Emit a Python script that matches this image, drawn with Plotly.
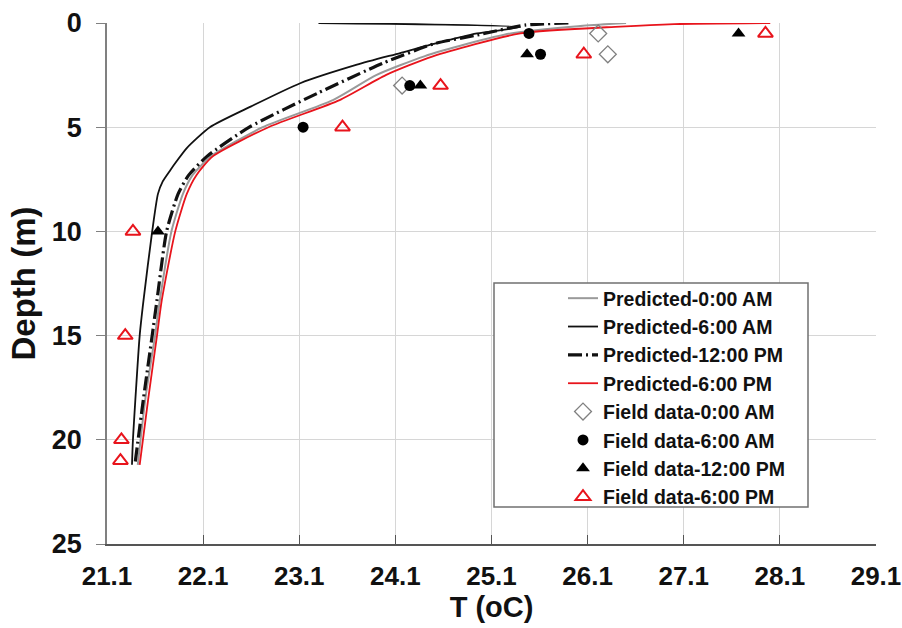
import plotly.graph_objects as go

# Predicted profiles (depth in m, temperature in oC)
depth_0am = [0, 0.15, 0.5, 1.0, 1.6, 2.5, 3.7, 5.0, 6.4, 7.3, 8.2, 10, 13.3, 15, 18, 21.2]
temp_0am = [26.5, 26.0, 25.3, 24.85, 24.4, 23.9, 23.45, 22.72, 22.18, 21.99, 21.89, 21.77, 21.65, 21.6, 21.5, 21.42]

depth_6am = [0, 0.2, 0.5, 1.0, 1.44, 2.0, 2.89, 4.0, 5.0, 6.0, 6.6, 7.05, 7.6, 8.2, 10, 13.3, 15, 20, 21.2]
temp_6am = [23.3, 25.4, 24.95, 24.5, 24.15, 23.7, 23.11, 22.6, 22.17, 21.93, 21.83, 21.76, 21.68, 21.63, 21.57, 21.48, 21.44, 21.37, 21.36]

depth_12pm = [0, 0.1, 0.58, 1.0, 1.93, 3.37, 5.0, 6.4, 7.3, 8.2, 10, 13.3, 15, 18, 21.2]
temp_12pm = [25.9, 25.45, 24.95, 24.5, 23.97, 23.29, 22.58, 22.14, 21.95, 21.84, 21.72, 21.62, 21.57, 21.48, 21.39]

depth_6pm = [0, 0.05, 0.17, 0.5, 1.6, 2.5, 3.7, 5.0, 6.4, 7.3, 8.2, 10, 13.3, 15, 18, 21.2]
temp_6pm = [28.0, 27.0, 26.44, 25.4, 24.49, 24.0, 23.52, 22.78, 22.2, 22.03, 21.93, 21.81, 21.67, 21.62, 21.53, 21.44]

# Field data
fd_0am_T = [26.21, 26.31, 24.17]
fd_0am_d = [0.5, 1.5, 3.0]
fd_6am_T = [25.49, 25.61, 24.25, 23.14]
fd_6am_d = [0.5, 1.5, 3.0, 5.0]
fd_12pm_T = [27.67, 25.47, 24.36, 21.63]
fd_12pm_d = [0.5, 1.5, 3.0, 10.0]
fd_6pm_T = [27.95, 26.06, 24.57, 23.55, 21.37, 21.29, 21.25, 21.24]
fd_6pm_d = [0.5, 1.5, 3.0, 5.0, 10.0, 15.0, 20.0, 21.0]

x_ticks = [21.1, 22.1, 23.1, 24.1, 25.1, 26.1, 27.1, 28.1, 29.1]
y_ticks = [0, 5, 10, 15, 20, 25]

# plot-area geometry in pixels
L, R, T, B = 107, 26, 23, 84
W, H = 902, 628
PW, PH = W - L - R, H - T - B


def px_x(px):
    return (px - L) / PW


def px_y(py):
    return 1 - (py - T) / PH


fig = go.Figure()

fig.add_trace(go.Scatter(x=temp_0am, y=depth_0am, mode="lines", name="Predicted-0:00 AM",
                         line=dict(color="#9a9a9a", width=2, shape="spline", smoothing=0.6), legendgroup="a"))
fig.add_trace(go.Scatter(x=temp_6am, y=depth_6am, mode="lines", name="Predicted-6:00 AM",
                         line=dict(color="#111111", width=1.8, shape="spline", smoothing=0.6), legendgroup="b"))
fig.add_trace(go.Scatter(x=temp_12pm, y=depth_12pm, mode="lines", name="Predicted-12:00 PM",
                         line=dict(color="#111111", width=3.2, dash="14px,4px,2px,4px", shape="spline", smoothing=0.6),
                         legendgroup="c"))
fig.add_trace(go.Scatter(x=temp_6pm, y=depth_6pm, mode="lines", name="Predicted-6:00 PM",
                         line=dict(color="#e8141c", width=1.8, shape="spline", smoothing=0.6), legendgroup="d"))

fig.add_trace(go.Scatter(x=fd_0am_T, y=fd_0am_d, mode="markers", name="Field data-0:00 AM",
                         marker=dict(symbol="diamond-open", size=13, color="#808080", line=dict(width=1.3)),
                         legendgroup="e"))
fig.add_trace(go.Scatter(x=fd_6am_T, y=fd_6am_d, mode="markers", name="Field data-6:00 AM",
                         marker=dict(symbol="circle", size=11, color="#000000"), legendgroup="f"))
fig.add_trace(go.Scatter(x=fd_12pm_T, y=fd_12pm_d, mode="markers", name="Field data-12:00 PM",
                         marker=dict(symbol="triangle-up", size=12, color="#000000"), legendgroup="g"))
fig.add_trace(go.Scatter(x=fd_6pm_T, y=fd_6pm_d, mode="markers", name="Field data-6:00 PM",
                         marker=dict(symbol="triangle-up-open", size=13, color="#e8141c", line=dict(width=2)),
                         legendgroup="h"))

font_family = "Liberation Sans, Arial, sans-serif"

# legend frame
fig.add_shape(type="rect", xref="paper", yref="paper",
              x0=px_x(494), x1=px_x(808), y0=px_y(507), y1=px_y(283),
              line=dict(color="#707070", width=1.5), fillcolor="white", layer="above")

fig.update_layout(
    width=W, height=H,
    margin=dict(l=L, r=R, t=T, b=B, autoexpand=False),
    paper_bgcolor="white", plot_bgcolor="white",
    font=dict(family=font_family, color="#111111"),
    showlegend=True,
    legend=dict(
        x=px_x(563), y=px_y(279), xanchor="left", yanchor="top",
        borderwidth=0, bgcolor="rgba(0,0,0,0)",
        font=dict(family=font_family, size=19.5, color="#111111", weight="bold"),
        traceorder="grouped", tracegroupgap=0,
    ),
    xaxis=dict(
        range=[21.1, 29.1], tickvals=x_ticks, ticktext=[f"{v:.1f}" for v in x_ticks],
        showgrid=True, gridcolor="#d6d6d6", gridwidth=1,
        showline=True, linecolor="#555555", linewidth=1.5,
        ticks="inside", ticklen=9, tickcolor="#555555",
        tickfont=dict(family=font_family, size=26, weight="bold"),
        ticklabelstandoff=8, ticklabeloverflow="allow",
        automargin=False,
        title=dict(text="T (oC)", font=dict(family=font_family, size=29, weight="bold"), standoff=2),
        zeroline=False,
    ),
    yaxis=dict(
        range=[25, 0], tickvals=y_ticks,
        showgrid=True, gridcolor="#d6d6d6", gridwidth=1,
        showline=True, linecolor="#808080", linewidth=1.5,
        ticks="outside", ticklen=9, tickcolor="#808080",
        tickfont=dict(family=font_family, size=27, weight="bold"),
        ticklabelstandoff=9, ticklabeloverflow="allow",
        automargin=False,
        title=dict(text="Depth (m)", font=dict(family=font_family, size=33, weight="bold"), standoff=6),
        zeroline=False,
    ),
)

fig.write_html("out.html")
